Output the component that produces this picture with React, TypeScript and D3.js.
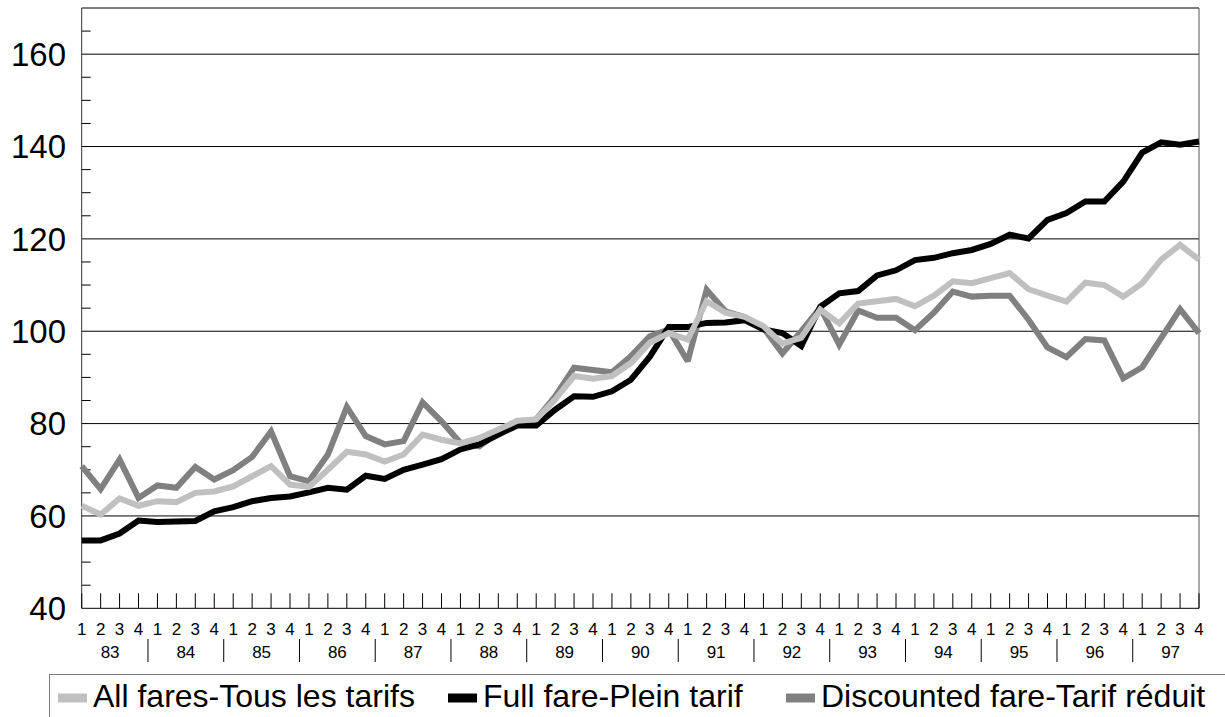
import React, { useEffect, useRef } from 'react';
import * as d3 from 'd3';

const years = ['83', '84', '85', '86', '87', '88', '89', '90', '91', '92', '93', '94', '95', '96', '97'];
const quarters = ['1', '2', '3', '4'];
const yTicks = [40, 60, 80, 100, 120, 140, 160];

const allFares = [
  62.2, 60.3, 63.8, 62.2, 63.2, 63.0, 65.0, 65.3, 66.4, 68.6, 70.8, 66.8, 66.3, 70.0, 73.9, 73.3,
  71.8, 73.3, 77.6, 76.5, 75.7, 76.9, 78.7, 80.6, 80.9, 85.2, 90.3, 89.7, 90.3, 93.1, 97.5, 99.6,
  98.2, 106.5, 104.0, 103.1, 101.1, 97.3, 98.6, 104.7, 101.7, 106.0, 106.5, 107.0, 105.4, 107.7,
  110.8, 110.4, 111.5, 112.6, 109.1, 107.7, 106.4, 110.5, 110.0, 107.5, 110.4, 115.5, 118.7, 115.5
];
const fullFare = [
  54.7, 54.7, 56.2, 59.0, 58.7, 58.8, 58.9, 61.0, 61.9, 63.2, 63.9, 64.2, 65.1, 66.1, 65.7, 68.7,
  68.0, 70.0, 71.1, 72.3, 74.4, 75.5, 77.6, 79.6, 79.6, 83.0, 85.9, 85.8, 87.0, 89.5, 94.5, 100.9,
  100.9, 101.8, 101.9, 102.4, 100.4, 99.6, 96.8, 105.3, 108.2, 108.7, 112.1, 113.2, 115.4, 115.9,
  116.9, 117.6, 118.9, 120.9, 120.1, 124.1, 125.6, 128.1, 128.1, 132.4, 138.7, 140.9, 140.4, 141.1
];
const discounted = [
  70.8, 65.8, 72.2, 63.9, 66.6, 66.1, 70.6, 67.9, 69.9, 72.8, 78.3, 68.6, 67.5, 73.3, 83.6, 77.3,
  75.5, 76.2, 84.6, 80.5, 75.8, 75.1, 78.1, 80.3, 80.9, 85.9, 92.1, 91.6, 91.1, 94.6, 98.9, 100.4,
  93.5, 109.0, 104.3, 103.1, 100.7, 95.2, 100.0, 105.1, 97.1, 104.5, 102.9, 102.9, 100.2, 104.0,
  108.6, 107.5, 107.7, 107.7, 102.5, 96.5, 94.4, 98.3, 98.0, 89.8, 92.2, 98.5, 104.8, 99.6
];

const series = [
  { name: 'All fares-Tous les tarifs', values: allFares, color: '#c0c0c0' },
  { name: 'Full fare-Plein tarif', values: fullFare, color: '#000000' },
  { name: 'Discounted fare-Tarif réduit', values: discounted, color: '#808080' }
];

const FONT = '"Liberation Sans", Arial, sans-serif';

const App = () => {
  const svgRef = useRef<SVGSVGElement | null>(null);

  useEffect(() => {
    document.body.style.margin = '0';
    const svg = d3.select(svgRef.current);
    svg.selectAll('*').remove();

    const categories = years.flatMap(y => quarters.map(q => `${y}-${q}`));
    const left = 81.7, right = 1199, top = 8, bottom = 608.3;

    const x = d3.scalePoint<number>().domain(d3.range(categories.length)).range([left, right]);
    const y = d3.scaleLinear().domain([40, 170]).range([bottom, top]);

    // gridlines
    svg.append('g')
      .selectAll('line')
      .data(yTicks.filter(t => t > 40))
      .enter()
      .append('line')
      .attr('x1', left).attr('x2', right)
      .attr('y1', d => y(d)).attr('y2', d => y(d))
      .attr('stroke', '#000').attr('stroke-width', 1);

    // plot border top / right
    svg.append('line').attr('x1', left).attr('x2', right).attr('y1', top).attr('y2', top)
      .attr('stroke', '#000');
    svg.append('line').attr('x1', right).attr('x2', right).attr('y1', top).attr('y2', bottom)
      .attr('stroke', '#555');

    // y axis minor ticks (inside)
    svg.append('g')
      .selectAll('line')
      .data(d3.range(45, 170, 5).filter(v => v % 20 !== 0))
      .enter()
      .append('line')
      .attr('x1', left).attr('x2', left + 9)
      .attr('y1', d => y(d)).attr('y2', d => y(d))
      .attr('stroke', '#000');

    svg.append('line').attr('x1', left).attr('x2', left).attr('y1', top).attr('y2', bottom)
      .attr('stroke', '#333');

    svg.append('g')
      .selectAll('text')
      .data(yTicks)
      .enter()
      .append('text')
      .attr('x', 66)
      .attr('y', d => y(d))
      .attr('dy', '0.36em')
      .attr('text-anchor', 'end')
      .style('font-family', FONT)
      .style('font-size', '33px')
      .text(d => d);

    // x axis
    svg.append('line').attr('x1', left).attr('x2', right).attr('y1', bottom).attr('y2', bottom)
      .attr('stroke', '#000');

    svg.append('g')
      .selectAll('line')
      .data(d3.range(categories.length))
      .enter()
      .append('line')
      .attr('x1', d => x(d)!).attr('x2', d => x(d)!)
      .attr('y1', bottom - 15).attr('y2', bottom)
      .attr('stroke', '#000');

    svg.append('g')
      .selectAll('text')
      .data(categories)
      .enter()
      .append('text')
      .attr('x', (d, i) => x(i)!)
      .attr('y', 635)
      .attr('text-anchor', 'middle')
      .style('font-family', FONT)
      .style('font-size', '17px')
      .text(d => d.split('-')[1]);

    const step = x.step();
    svg.append('g')
      .selectAll('text')
      .data(years)
      .enter()
      .append('text')
      .attr('x', (d, i) => x(i * 4)! + 1.5 * step)
      .attr('y', 658)
      .attr('text-anchor', 'middle')
      .style('font-family', FONT)
      .style('font-size', '17px')
      .text(d => d);

    svg.append('g')
      .selectAll('line')
      .data(years.slice(1))
      .enter()
      .append('line')
      .attr('x1', (d, i) => x((i + 1) * 4)! - step / 2)
      .attr('x2', (d, i) => x((i + 1) * 4)! - step / 2)
      .attr('y1', 639).attr('y2', 662)
      .attr('stroke', '#000');

    // series lines (discounted first, all fares on top)
    const line = d3.line<number>()
      .x((d, i) => x(i)!)
      .y(d => y(d));

    [series[2], series[1], series[0]].forEach(s => {
      svg.append('path')
        .datum(s.values)
        .attr('d', line)
        .attr('fill', 'none')
        .attr('stroke', s.color)
        .attr('stroke-width', 6)
        .attr('stroke-linejoin', 'miter')
        .attr('stroke-miterlimit', 2.5);
    });

    // legend
    const legend = svg.append('g');
    legend.append('rect')
      .attr('x', 49.5).attr('y', 674.5)
      .attr('width', 1200).attr('height', 60)
      .attr('fill', 'none')
      .attr('stroke', '#808080');

    const legendX = [58, 448, 786];
    series.forEach((s, i) => {
      legend.append('line')
        .attr('x1', legendX[i]).attr('x2', legendX[i] + 29)
        .attr('y1', 698).attr('y2', 698)
        .attr('stroke', s.color)
        .attr('stroke-width', 9);
      legend.append('text')
        .attr('x', legendX[i] + 35)
        .attr('y', 707)
        .style('font-family', FONT)
        .style('font-size', '32px')
        .text(s.name);
    });
  }, []);

  return (
    <div style={{ position: 'absolute', left: 0, top: 0 }}>
      <svg ref={svgRef} width={1225} height={717} style={{ display: 'block', background: '#fff' }} />
    </div>
  );
};

export default App;
